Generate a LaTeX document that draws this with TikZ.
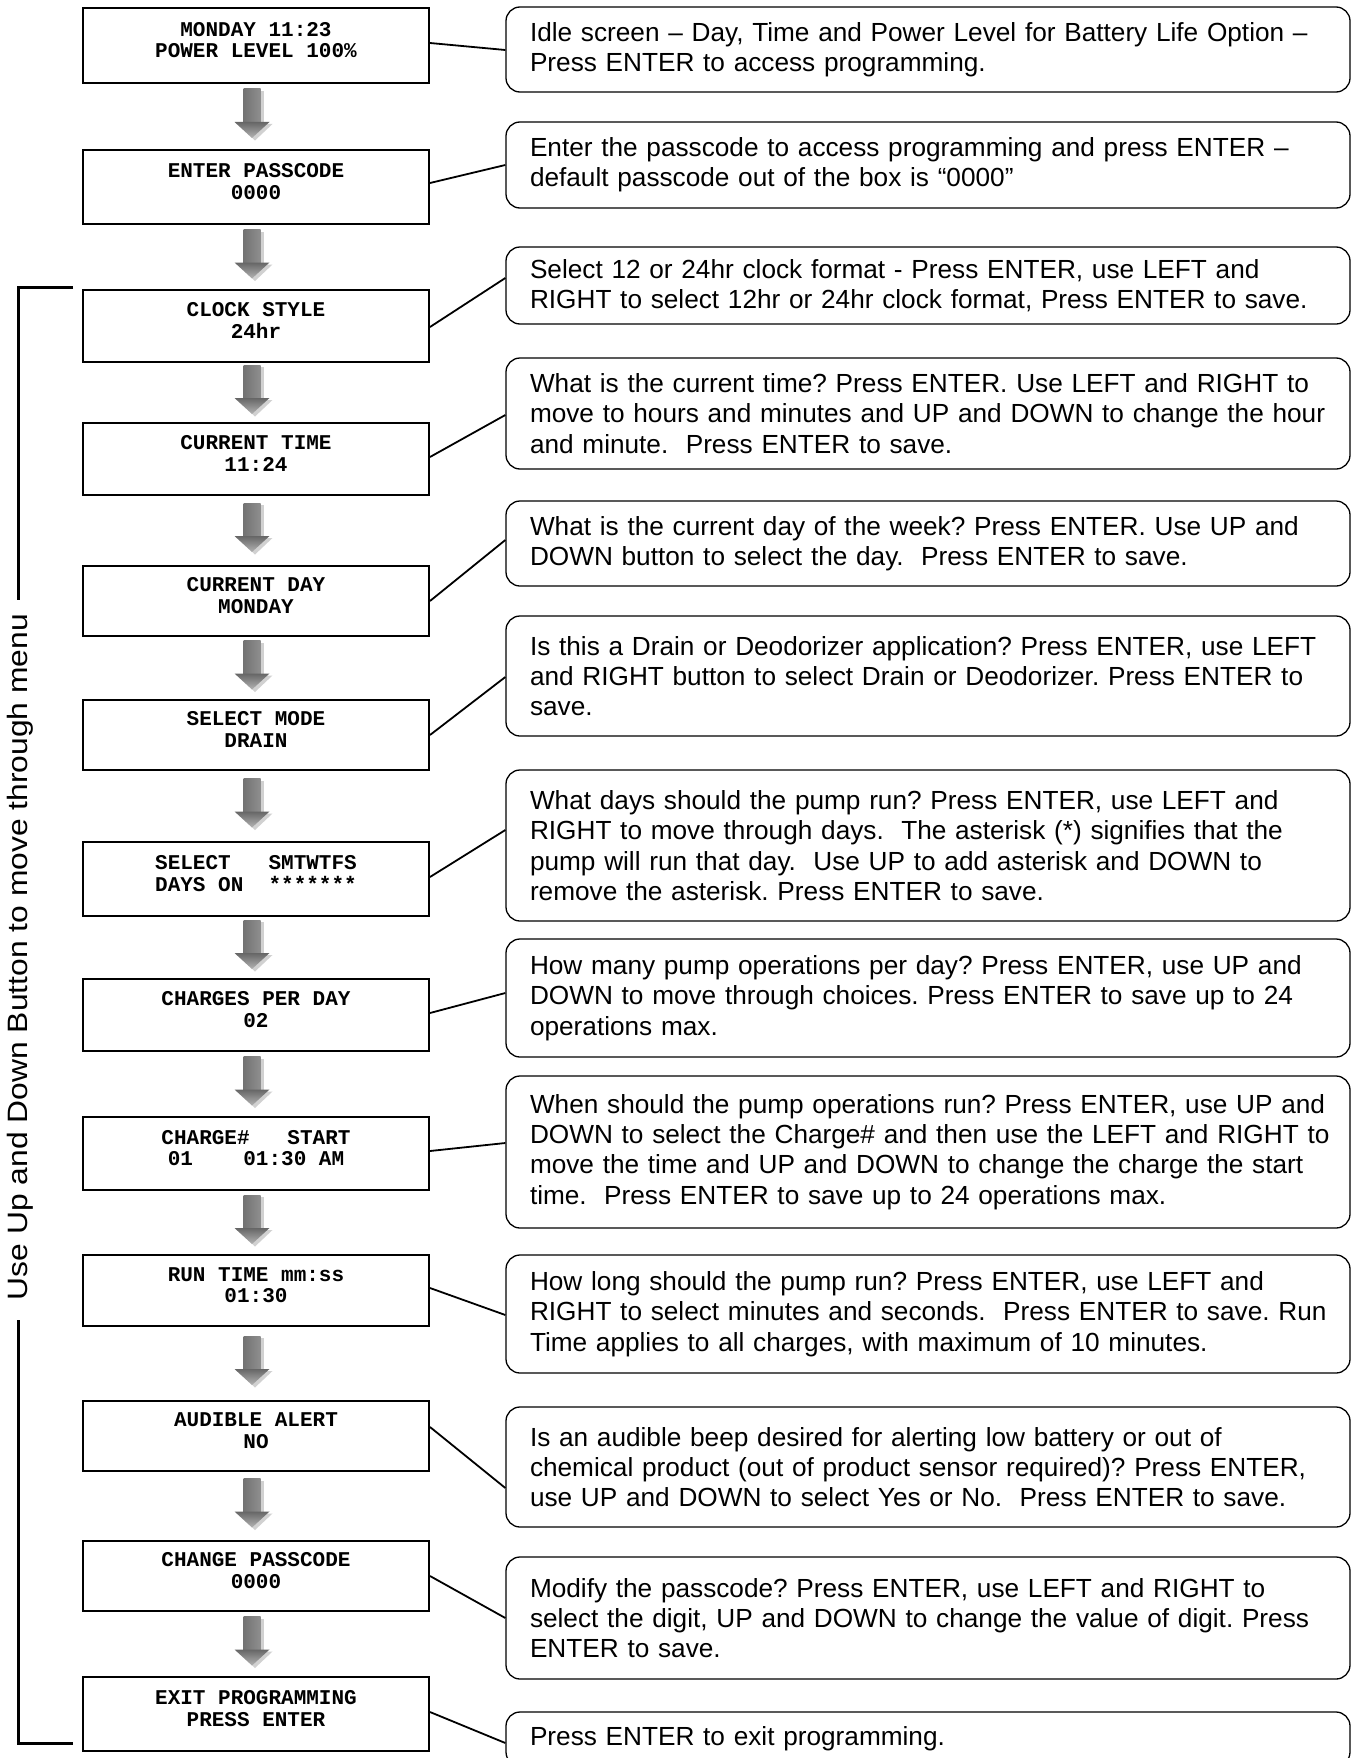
\documentclass[tikz,border=0pt]{standalone}
\usepackage{graphicx}
\usepackage{fontspec}
\setmainfont{Liberation Sans}
\newfontfamily\lcdfont{Liberation Mono}
\frenchspacing
\usetikzlibrary{calc}
\tikzset{
  lcdbox/.style={draw=black, line width=2pt, fill=white, minimum width=346pt,
    align=center, inner sep=0pt, text depth=11pt,
    font=\lcdfont\bfseries\fontsize{21}{21.5}\selectfont},
  notebox/.style={draw=black, line width=1.3pt, rounded corners=14pt, fill=white,
    text width=796pt, inner xsep=24pt, inner ysep=0pt, align=left,
    font=\fontsize{26.2}{30.3}\selectfont},
  link/.style={draw=black, line width=1.8pt},
  bracketline/.style={draw=black, line width=3pt},
  downarrow/.pic={
    \fill[black!18] (-5.5,-22.5) rectangle (11.5,10.5);
    \fill[black!18] (-14.5,10.5) -- (20.5,10.5) -- (3,27) -- cycle;
    \shade[left color=black!55, middle color=black!15, right color=black!44] (-8.5,-24.5) rectangle (8.5,9);
    \shade[top color=black!60, bottom color=black!30] (-17.5,8.5) -- (17.5,8.5) -- (0,24.5) -- cycle;
  }
}
\begin{document}
\begin{tikzpicture}[x=1pt,y=-1pt]
\path[use as bounding box, clip] (0,0) rectangle (1352,1758);
\fill[white] (0,0) rectangle (1352,1758);

% left screens
\node[lcdbox, minimum height=75pt] (l1) at (256,45.5) {MONDAY 11:23\\POWER LEVEL 100\%};
\node[lcdbox, minimum height=74pt] (l2) at (256,187) {ENTER PASSCODE\\0000};
\node[lcdbox, minimum height=72pt] (l3) at (256,326) {CLOCK STYLE\\24hr};
\node[lcdbox, minimum height=72pt] (l4) at (256,459) {CURRENT TIME\\11:24};
\node[lcdbox, minimum height=70pt] (l5) at (256,601) {CURRENT DAY\\MONDAY};
\node[lcdbox, minimum height=70pt] (l6) at (256,735) {SELECT MODE\\DRAIN};
\node[lcdbox, minimum height=74pt] (l7) at (256,879) {SELECT~~~SMTWTFS\\DAYS~ON~~*******};
\node[lcdbox, minimum height=72pt] (l8) at (256,1015) {CHARGES PER DAY\\02};
\node[lcdbox, minimum height=73pt] (l9) at (256,1153.5) {CHARGE\#~~~START\\01~~~~01:30~AM};
\node[lcdbox, minimum height=71pt] (l10) at (256,1290.5) {RUN TIME mm:ss\\01:30};
\node[lcdbox, minimum height=70pt] (l11) at (256,1436) {AUDIBLE ALERT\\NO};
\node[lcdbox, minimum height=70pt] (l12) at (256,1576) {CHANGE PASSCODE\\0000};
\node[lcdbox, minimum height=74pt] (l13) at (256,1714) {EXIT PROGRAMMING\\PRESS ENTER};

% right notes
\node[notebox, minimum height=85pt] (r1) at (928,49.5) {\mbox{Idle screen – Day, Time and Power Level for Battery Life Option –}\\\mbox{Press ENTER to access programming.}};
\node[notebox, minimum height=86pt] (r2) at (928,165) {\mbox{Enter the passcode to access programming and press ENTER –}\\\mbox{default passcode out of the box is “0000”}};
\node[notebox, minimum height=77pt] (r3) at (928,285.5) {\mbox{Select 12 or 24hr clock format - Press ENTER, use LEFT and}\\\mbox{RIGHT to select 12hr or 24hr clock format, Press ENTER to save.}};
\node[notebox, minimum height=111pt] (r4) at (928,413.5) {\mbox{What is the current time? Press ENTER. Use LEFT and RIGHT to}\\\mbox{move to hours and minutes and UP and DOWN to change the hour}\\\mbox{and minute.~ Press ENTER to save.}};
\node[notebox, minimum height=85pt] (r5) at (928,543.5) {\mbox{What is the current day of the week? Press ENTER. Use UP and}\\\mbox{DOWN button to select the day.~ Press ENTER to save.}};
\node[notebox, minimum height=120pt] (r6) at (928,676) {\mbox{Is this a Drain or Deodorizer application? Press ENTER, use LEFT}\\\mbox{and RIGHT button to select Drain or Deodorizer. Press ENTER to}\\\mbox{save.}};
\node[notebox, minimum height=151pt] (r7) at (928,845.5) {\mbox{What days should the pump run? Press ENTER, use LEFT and}\\\mbox{RIGHT to move through days.~ The asterisk (*) signifies that the}\\\mbox{pump will run that day.~ Use UP to add asterisk and DOWN to}\\\mbox{remove the asterisk. Press ENTER to save.}};
\node[notebox, minimum height=118pt] (r8) at (928,998) {\mbox{How many pump operations per day? Press ENTER, use UP and}\\\mbox{DOWN to move through choices. Press ENTER to save up to 24}\\\mbox{operations max.}};
\node[notebox, minimum height=152pt] (r9) at (928,1152) {\mbox{When should the pump operations run? Press ENTER, use UP and}\\\mbox{DOWN to select the Charge\# and then use the LEFT and RIGHT to}\\\mbox{move the time and UP and DOWN to change the charge the start}\\\mbox{time.~ Press ENTER to save up to 24 operations max.}};
\node[notebox, minimum height=118pt] (r10) at (928,1314) {\mbox{How long should the pump run? Press ENTER, use LEFT and}\\\mbox{RIGHT to select minutes and seconds.~ Press ENTER to save. Run}\\\mbox{Time applies to all charges, with maximum of 10 minutes.}};
\node[notebox, minimum height=120pt] (r11) at (928,1467) {\mbox{Is an audible beep desired for alerting low battery or out of}\\\mbox{chemical product (out of product sensor required)? Press ENTER,}\\\mbox{use UP and DOWN to select Yes or No.~ Press ENTER to save.}};
\node[notebox, minimum height=122pt] (r12) at (928,1618) {\mbox{Modify the passcode? Press ENTER, use LEFT and RIGHT to}\\\mbox{select the digit, UP and DOWN to change the value of digit. Press}\\\mbox{ENTER to save.}};
\node[notebox, minimum height=54pt] (r13) at (928,1739) {\mbox{Press ENTER to exit programming.}};

% connectors
\draw[link] ([yshift=2.5pt]l1.east) -- ([yshift=-0.5pt]r1.west);
\draw[link] ([yshift=4pt]l2.east) -- (r2.west);
\draw[link] ([yshift=-1pt]l3.east) -- ([yshift=7.5pt]r3.west);
\draw[link] ([yshift=2pt]l4.east) -- ([yshift=-1.5pt]r4.west);
\draw[link] (l5.east) -- ([yshift=3.5pt]r5.west);
\draw[link] (l6.east) -- ([yshift=-1pt]r6.west);
\draw[link] ([yshift=2pt]l7.east) -- ([yshift=15.5pt]r7.west);
\draw[link] ([yshift=2pt]l8.east) -- ([yshift=5pt]r8.west);
\draw[link] ([yshift=2.5pt]l9.east) -- ([yshift=9pt]r9.west);
\draw[link] ([yshift=2.5pt]l10.east) -- ([yshift=-1pt]r10.west);
\draw[link] ([yshift=9pt]l11.east) -- ([yshift=-21pt]r11.west);
\draw[link] (l12.east) -- (r12.west);
\draw[link] ([yshift=2pt]l13.east) -- ([yshift=-4pt]r13.west);

% flow arrows
\foreach \a/\b in {l1/l2,l2/l3,l3/l4,l4/l5,l5/l6,l6/l7,l7/l8,l8/l9,l9/l10,l10/l11,l11/l12,l12/l13}{
  \pic at ($(\a.south)!0.5!(\b.north)+(-4,-3)$) {downarrow};
}

% side bracket
\node[rotate=90, inner sep=0pt, font=\fontsize{28}{30}\selectfont] (menu) at (20,957) {\scalebox{1.136}[1]{Use Up and Down Button to move through menu}};
\coordinate (btop) at (73,287);
\coordinate (bbot) at (73,1743);
\draw[bracketline] (btop) -- (18,287) -- (18,600);
\draw[bracketline] (18,1320) -- (18,1743) -- (bbot);
\end{tikzpicture}
\end{document}
